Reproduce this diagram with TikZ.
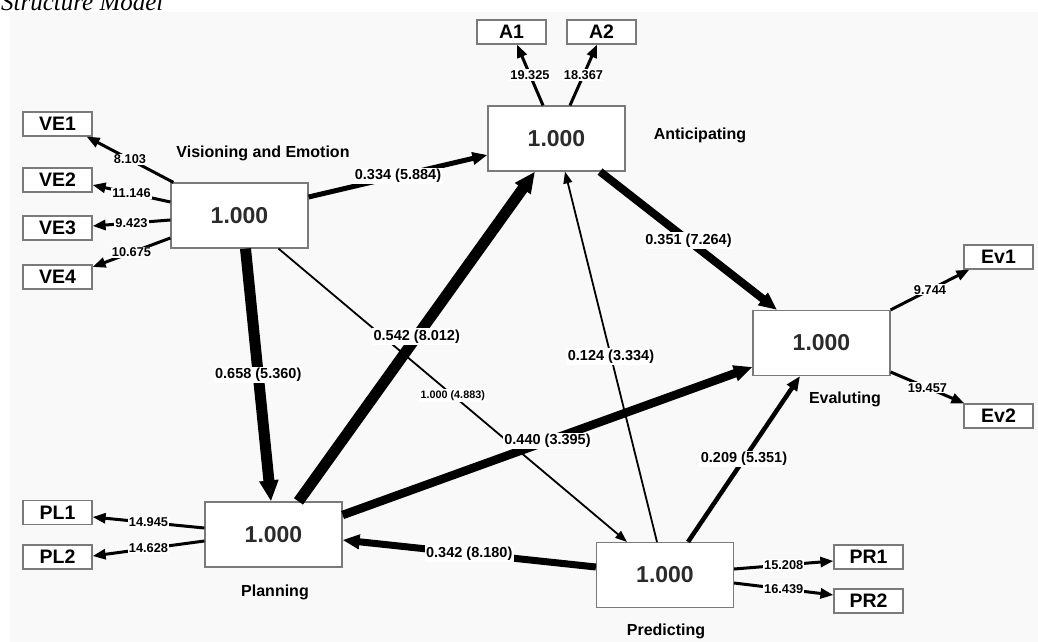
\documentclass[tikz,border=0pt]{standalone}
\usepackage{fontspec}
\setmainfont{Liberation Sans}
\newfontfamily\capfont{Liberation Serif}
\usetikzlibrary{arrows.meta}
\definecolor{bggray}{HTML}{F9F9F9}
\definecolor{boxline}{HTML}{7A7A7A}
\definecolor{valtext}{HTML}{2B2B2B}

\begin{document}
\begin{tikzpicture}[x=1pt,y=-1pt,>={Triangle[length=10pt 1,width=7pt 1]},
  latent/.style={draw=boxline,fill=white,line width=1.2pt,minimum width=137pt,minimum height=65pt,inner sep=0pt,text=valtext,font=\bfseries\fontsize{23}{25}\selectfont},
  ind/.style={draw=boxline,fill=white,line width=1.2pt,minimum width=69pt,minimum height=24pt,inner sep=0pt,font=\bfseries\fontsize{19.5}{20}\selectfont},
  lvname/.style={font=\bfseries\fontsize{16}{18}\selectfont},
  rel/.style={->,line width=#1},
  load/.style={->,line width=3pt},
  coef/.style={fill=white,inner sep=1.5pt,font=\bfseries\fontsize{14.5}{16}\selectfont},
  coefs/.style={coef,font=\bfseries\fontsize{10.8}{12}\selectfont},
  wt/.style={fill=white,inner sep=1pt,font=\bfseries\fontsize{12.8}{14}\selectfont}]
\useasboundingbox (0,0) rectangle (1038,642);
% The paper and the caption
\fill[white] (0,0) rectangle (1038,642);
\fill[bggray] (10,12) rectangle (1038,642);
\node[anchor=base west,inner sep=0pt,font=\capfont\itshape\fontsize{25}{25}\selectfont] (cap) at (1,10.5) {Structure Model};
% The latent variables
\node[latent] (ve)  at (239.5,215.5) {1.000};
\node[latent] (ant) at (556.5,138.5) {1.000};
\node[latent] (ev)  at (821.5,343)   {1.000};
\node[latent] (pl)  at (273.5,534.5) {1.000};
\node[latent] (pr)  at (665,575)     {1.000};
\node[lvname] (vename)  at (263,153) {Visioning and Emotion};
\node[lvname] (antname) at (700,135) {Anticipating};
\node[lvname] (evname)  at (845,399) {Evaluting};
\node[lvname] (plname)  at (275,592) {Planning};
\node[lvname] (prname)  at (666,631) {Predicting};
% The indicators
\foreach \n/\x/\y in {VE1/57.5/124,VE2/57.5/180,VE3/57.5/228,VE4/57.5/277,
    A1/511.5/32,A2/601.5/32,Ev1/998.5/257,Ev2/998.5/416,
    PL1/57.5/512.5,PL2/57.5/557,PR1/868.5/557,PR2/868.5/601}
  \node[ind] (\n) at (\x,\y) {\n};
% The loadings
\draw[load] ([xshift=3pt]ve.north west) -- ([xshift=-6pt]VE1.south east) node[wt,midway] {8.103};
\draw[load] ([yshift=13.5pt]ve.west) -- ([yshift=-5pt]VE2.east) node[wt,midway] {11.146};
\draw[load] ([yshift=-4.5pt]ve.west) -- ([yshift=2pt]VE3.east) node[wt,midway] {9.423};
\draw[load] ([yshift=-22.5pt]ve.west) -- ([yshift=10pt]VE4.east) node[wt,midway] {10.675};
\draw[load] ([xshift=-13.5pt]ant.north) -- ([xshift=5.5pt]A1.south) node[wt,midway] {19.325};
\draw[load] ([xshift=13.5pt]ant.north) -- ([xshift=-4.5pt]A2.south) node[wt,midway] {18.367};
\draw[load] (ev.north east) -- ([xshift=6pt]Ev1.south west) node[wt,midway] {9.744};
\draw[load] ([yshift=-29pt]ev.east) -- ([xshift=1pt]Ev2.north west) node[wt,midway] {19.457};
\draw[load] ([yshift=6.5pt]pl.west) -- ([yshift=-4.5pt]PL1.east) node[wt,midway] {14.945};
\draw[load] ([yshift=-6.5pt]pl.west) -- ([yshift=1pt]PL2.east) node[wt,midway] {14.628};
\draw[load] ([yshift=6pt]pr.east) -- ([yshift=-4pt]PR1.west) node[wt,midway] {15.208};
\draw[load] ([yshift=-8pt]pr.east) -- ([yshift=6pt]PR2.west) node[wt,midway] {16.439};
% The paths, thin ones first
\draw[rel=1.8pt] ([xshift=39pt]ve.south) -- ([xshift=-38pt]pr.north) node[coefs,midway] {1.000 (4.883)};
\draw[rel=1.8pt] ([xshift=-8pt]pr.north) -- ([xshift=8.5pt]ant.south) node[coef,midway] {0.124 (3.334)};
\draw[rel=4.5pt] ([xshift=23pt]pr.north) -- ([xshift=-21.5pt]ev.south) node[coef,midway] {0.209 (5.351)};
\draw[rel=5pt] ([yshift=18.5pt]ve.east) -- ([yshift=-16.5pt]ant.west) node[coef,midway] {0.334 (5.884)};
\draw[rel=7pt] ([yshift=8pt]pr.west) -- ([yshift=-5.5pt]pl.east) node[coef,midway] {0.342 (8.180)};
\draw[rel=8pt] ([xshift=43.5pt]ant.south) -- ([xshift=-44.5pt]ev.north) node[coef,midway] {0.351 (7.264)};
\draw[rel=8.5pt] ([yshift=19.5pt]pl.east) -- ([yshift=-24pt]ev.west) node[coef,midway] {0.440 (3.395)};
\draw[rel=11pt] ([xshift=6pt]ve.south) -- ([xshift=-2.5pt]pl.north) node[coef,midway] {0.658 (5.360)};
\draw[rel=11pt] ([xshift=25pt]pl.north) -- ([xshift=-21.5pt]ant.south) node[coef,midway] {0.542 (8.012)};
\end{tikzpicture}
\end{document}
